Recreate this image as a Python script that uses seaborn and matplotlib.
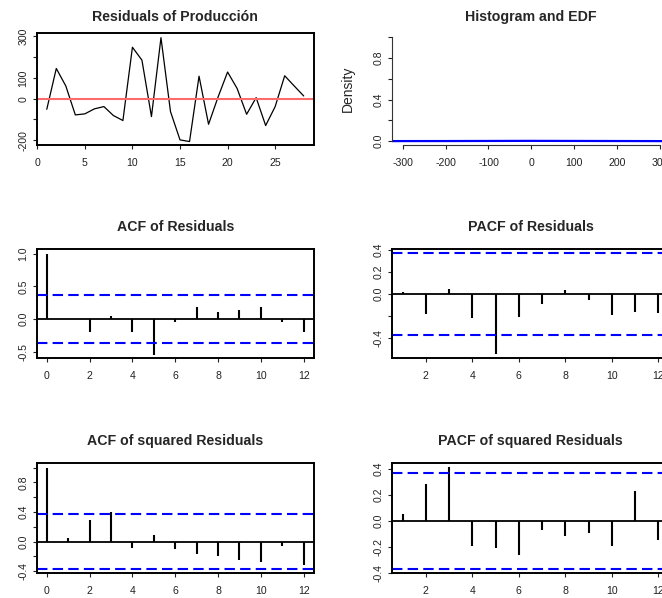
import matplotlib
matplotlib.use("Agg")
import matplotlib.pyplot as plt
import seaborn as sns

# residuals of the fitted model, t = 1..28
t_index = list(range(1, 29))
residuals = [-51, 145, 61, -78, -73, -49, -38, -81, -105, 247, 185, -86, 293, -62,
             -198, -206, 108, -123, 8, 128, 49, -75, 5, -129, -38, 110, 61, 13]

# autocorrelations
acf_lags = list(range(0, 13))
acf_resid = [1.0, 0.005, -0.20, 0.04, -0.20, -0.55, -0.05, 0.18, 0.10, 0.14, 0.18, -0.045, -0.20]
pacf_lags = list(range(1, 13))
pacf_resid = [0.015, -0.18, 0.05, -0.22, -0.55, -0.21, -0.093, 0.033, -0.054, -0.19, -0.165, -0.174]
acf_sq = [1.0, 0.054, 0.297, 0.40, -0.09, 0.085, -0.10, -0.16, -0.19, -0.25, -0.28, -0.054, -0.32]
pacf_sq = [0.051, 0.283, 0.414, -0.196, -0.211, -0.26, -0.067, -0.116, -0.095, -0.19, 0.231, -0.144]
conf_band = 0.37

sns.set_style("white")
plt.rcParams['font.family'] = ['Liberation Sans', 'DejaVu Sans']
plt.rcParams['axes.unicode_minus'] = False

W, H = 662, 598
fig = plt.figure(figsize=(W / 100, H / 100), dpi=100)
fig.patch.set_facecolor('white')


def add_box(left, top, width, height):
    # pixel box (from top-left) -> figure fraction
    return fig.add_axes([left / W, 1 - (top + height) / H, width / W, height / H])


PW = 277.5
LX, RX = 36.5, 391.7
rows = [(33.3, 112.0), (249.0, 109.3), (462.7, 110.6)]


def style_axis(ax, title, pad, box=True):
    ax.set_title(title, fontsize=10.2, fontweight='bold', pad=pad)
    ax.tick_params(axis='both', direction='out', length=3, width=0.8,
                   colors='#222222', labelsize=7.6, left=True, bottom=True)
    ax.tick_params(axis='x', pad=6)
    ax.tick_params(axis='y', pad=3)
    plt.setp(ax.get_yticklabels(), rotation=90, va='center')
    for side, sp in ax.spines.items():
        sp.set_visible(box or side in ('left', 'bottom'))
        sp.set_linewidth(1.4 if box else 0.8)
        sp.set_color('black' if box else '#333333')
    ax.set_xlabel('')
    ax.set_ylabel('')


def set_yaxis(ax, ticks, labelled, fmt):
    ax.set_yticks(ticks)
    ax.set_yticklabels([fmt.format(v) if v in labelled else '' for v in ticks])


def corr_panel(ax, lags, vals, title, pad, xlim, ylim, xticks, yticks, ylab):
    # R style type="h" spikes
    ax.vlines(lags, 0, vals, color='black', lw=1.5)
    ax.axhline(0, color='black', lw=1.3)
    for c in (conf_band, -conf_band):
        ax.axhline(c, color='#0000FF', lw=1.5, linestyle=(0, (5, 2.5)))
    ax.set_xlim(*xlim)
    ax.set_ylim(*ylim)
    ax.set_xticks(xticks)
    ax.set_xticklabels([str(x) for x in xticks])
    set_yaxis(ax, yticks, ylab, "{:.1f}")
    style_axis(ax, title, pad)


# residual series
ax1 = add_box(LX, rows[0][0], PW, rows[0][1])
sns.lineplot(x=t_index, y=residuals, color='black', lw=0.9, ax=ax1)
ax1.axhline(0, color='#FF6B6B', lw=1.5)
ax1.set_xlim(-0.08, 29.08)
ax1.set_ylim(-224, 314)
ax1.set_xticks([0, 5, 10, 15, 20, 25])
set_yaxis(ax1, [-200, -100, 0, 100, 200, 300], [-200, 0, 100, 300], "{:d}")
style_axis(ax1, 'Residuals of Producción', 8.9)

# histogram / density panel
ax2 = add_box(RX, rows[0][0], PW, rows[0][1])
sns.kdeplot(x=residuals, color='#0000FF', lw=1.6, cut=5, ax=ax2)
ax2.set_xlim(-325.7, 321.5)
ax2.set_ylim(-0.04, 1.04)
ax2.set_xticks([-300, -200, -100, 0, 100, 200, 300])
set_yaxis(ax2, [0.0, 0.2, 0.4, 0.6, 0.8, 1.0], [0.0, 0.4, 0.8], "{:.1f}")
style_axis(ax2, 'Histogram and EDF', 8.9, box=False)
ax2.spines['left'].set_bounds(0, 1)
ax2.spines['bottom'].set_bounds(-300, 300)
ax2.set_ylabel('Density', fontsize=10)
ax2.yaxis.set_label_coords(-0.132, 0.5)

ax3 = add_box(LX, rows[1][0], PW, rows[1][1])
corr_panel(ax3, acf_lags, acf_resid, 'ACF of Residuals', 13,
           (-0.48, 12.48), (-0.60, 1.07), list(range(0, 13, 2)),
           [-0.5, 0.0, 0.5, 1.0], [-0.5, 0.0, 0.5, 1.0])

ax4 = add_box(RX, rows[1][0], PW, rows[1][1])
corr_panel(ax4, pacf_lags, pacf_resid, 'PACF of Residuals', 13,
           (0.53, 12.47), (-0.586, 0.41), list(range(2, 13, 2)),
           [-0.4, -0.2, 0.0, 0.2, 0.4], [-0.4, 0.0, 0.2, 0.4])

ax5 = add_box(LX, rows[2][0], PW, rows[2][1])
corr_panel(ax5, acf_lags, acf_sq, 'ACF of squared Residuals', 13,
           (-0.48, 12.48), (-0.427, 1.065), list(range(0, 13, 2)),
           [-0.4, -0.2, 0.0, 0.2, 0.4, 0.6, 0.8, 1.0], [-0.4, 0.0, 0.4, 0.8])

ax6 = add_box(RX, rows[2][0], PW, rows[2][1])
corr_panel(ax6, pacf_lags, pacf_sq, 'PACF of squared Residuals', 13,
           (0.53, 12.47), (-0.404, 0.45), list(range(2, 13, 2)),
           [-0.4, -0.2, 0.0, 0.2, 0.4], [-0.4, -0.2, 0.0, 0.2, 0.4])

fig.savefig('out.png', dpi=100, facecolor='white')
